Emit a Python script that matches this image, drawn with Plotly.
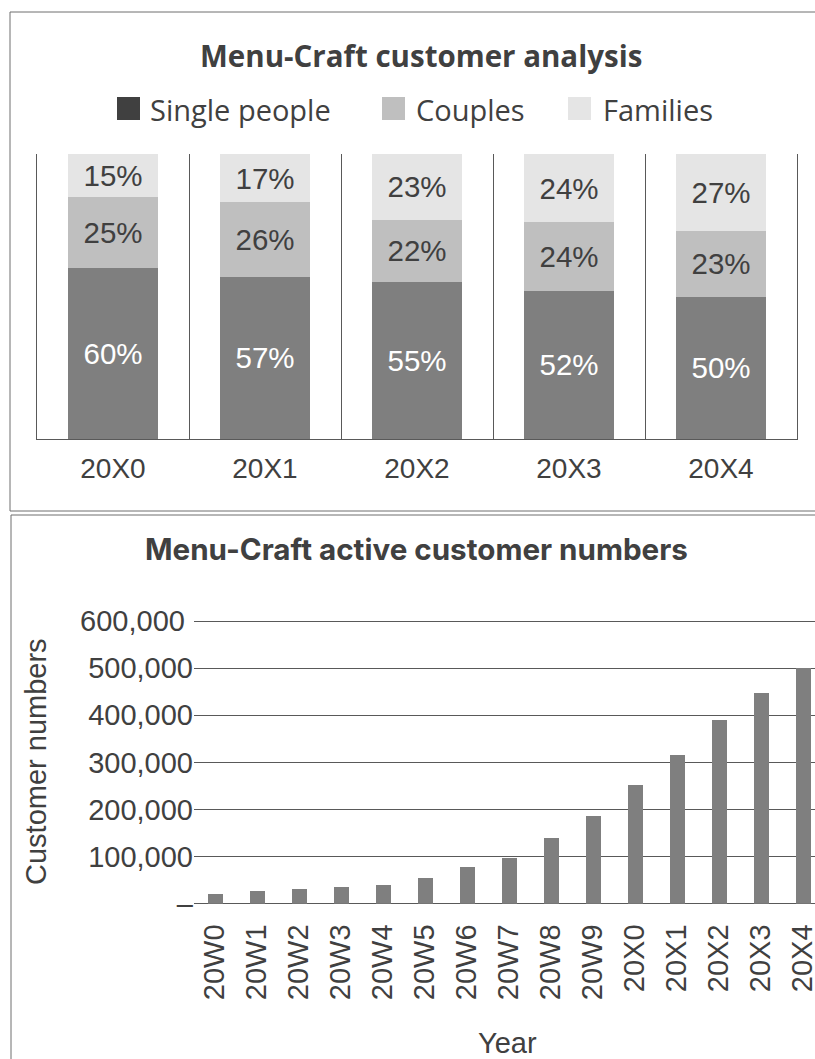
import plotly.graph_objects as go

# ---------------- data ----------------
years_top = ["20X0", "20X1", "20X2", "20X3", "20X4"]
single_people = [60, 57, 55, 52, 50]
couples = [25, 26, 22, 24, 23]
families = [15, 17, 23, 24, 27]

years_bottom = ["20W0", "20W1", "20W2", "20W3", "20W4", "20W5", "20W6", "20W7",
                "20W8", "20W9", "20X0", "20X1", "20X2", "20X3", "20X4"]
customer_numbers = [21000, 27000, 31000, 35000, 40000, 55000, 78000, 98000,
                    140000, 187000, 252000, 316000, 390000, 448000, 500000]

y2_tickvals = [0, 100000, 200000, 300000, 400000, 500000, 600000]
y2_ticktext = ["–", "100,000", "200,000", "300,000", "400,000", "500,000", "600,000&nbsp;"]

legend_names = ["Single people", "Couples", "Families"]

# ---------------- styling ----------------
W, H = 815, 1059
def X(px):
    return px / W
def Y(py):
    return 1 - py / H

DARK = "#404040"
LINE = "#595959"
BORDER = "#6e6e6e"
C_SINGLE = "#7f7f7f"
C_COUPLE = "#bfbfbf"
C_FAMILY = "#e5e5e5"
LEG_COLORS = ["#404040", "#bfbfbf", "#e5e5e5"]
NUMFONT = "Liberation Sans, Arial, sans-serif"

fig = go.Figure()

for name, vals, col, tcol in [
    (legend_names[0], single_people, C_SINGLE, "white"),
    (legend_names[1], couples, C_COUPLE, DARK),
    (legend_names[2], families, C_FAMILY, DARK),
]:
    fig.add_trace(go.Bar(
        x=years_top, y=vals, name=name, marker=dict(color=col, line=dict(width=0)),
        texttemplate="%{y}%", textposition="inside", insidetextanchor="middle",
        constraintext="none", textangle=0,
        textfont=dict(family=NUMFONT, size=29.5, color=tcol),
        xaxis="x", yaxis="y", showlegend=False, hoverinfo="skip",
    ))

fig.add_trace(go.Bar(
    x=years_bottom, y=customer_numbers, width=0.357,
    marker=dict(color=C_SINGLE, line=dict(width=0)),
    xaxis="x2", yaxis="y2", showlegend=False, hoverinfo="skip",
))

plot2_left = 194
x2_hi = (W - plot2_left) / 42.0 - 0.5
# bottom plot: zero at 903.7px, 600k at 621px; add 2px headroom so top gridline is not clipped
y2_top_px = 619
y2_max = 600000 * (903.7 - y2_top_px) / (903.7 - 621)

fig.update_layout(
    template="none",
    width=W, height=H, margin=dict(l=0, r=0, t=0, b=0, autoexpand=False),
    autosize=False,
    paper_bgcolor="white", plot_bgcolor="white",
    barmode="stack", bargap=0.408,
    showlegend=False,
    xaxis=dict(domain=[X(37), X(797)], anchor="y", type="category", automargin=False,
               tickson="boundaries", showgrid=True, gridcolor=LINE, gridwidth=1,
               showline=True, linecolor=LINE, linewidth=1, ticks="", zeroline=False,
               tickfont=dict(family=NUMFONT, size=28, color=DARK),
               ticklabelstandoff=4, fixedrange=True),
    yaxis=dict(domain=[Y(439), Y(154)], anchor="x", range=[0, 100], automargin=False,
               showgrid=False, zeroline=False, showticklabels=False, ticks="",
               showline=True, linecolor=LINE, linewidth=1, mirror=True, fixedrange=True),
    xaxis2=dict(domain=[X(plot2_left), 1], anchor="y2", type="category", automargin=False,
                range=[-0.5, x2_hi], showgrid=False, ticks="", zeroline=False, showline=False,
                tickangle=-90, tickfont=dict(family=NUMFONT, size=29, color=DARK),
                ticklabelstandoff=14, fixedrange=True),
    yaxis2=dict(domain=[Y(903.7), Y(y2_top_px)], anchor="x2", range=[0, y2_max], automargin=False,
                tickmode="array", tickvals=y2_tickvals, ticktext=y2_ticktext,
                showgrid=True, gridcolor=LINE, gridwidth=1, showline=False,
                zeroline=True, zerolinecolor=LINE, zerolinewidth=1,
                ticks="", tickfont=dict(family=NUMFONT, size=29, color=DARK),
                ticklabelstandoff=0, fixedrange=True),
)

shapes = []
# panel borders
shapes.append(dict(type="rect", xref="paper", yref="paper",
                   x0=X(10), x1=X(W + 20), y0=Y(511), y1=Y(12),
                   line=dict(color=BORDER, width=1), fillcolor="rgba(0,0,0,0)", layer="below"))
shapes.append(dict(type="rect", xref="paper", yref="paper",
                   x0=X(11), x1=X(W + 20), y0=Y(H + 20), y1=Y(515),
                   line=dict(color=BORDER, width=1), fillcolor="rgba(0,0,0,0)", layer="below"))

annotations = []
# titles
annotations.append(dict(text="<b>Menu-Craft customer analysis</b>", xref="paper", yref="paper",
                        x=X(421), y=Y(56), xanchor="center", yanchor="middle", showarrow=False,
                        font=dict(family="Open Sans", size=29.5, color=DARK)))
annotations.append(dict(text="<b>Menu-Craft active customer numbers</b>", xref="paper", yref="paper",
                        x=X(416), y=Y(549), xanchor="center", yanchor="middle", showarrow=False,
                        font=dict(family="Inter", size=29.6, color=DARK)))

# manual legend
leg_sq_x = [117, 382, 568]
leg_tx_x = [148, 414, 601]
for name, col, sx, tx in zip(legend_names, LEG_COLORS, leg_sq_x, leg_tx_x):
    shapes.append(dict(type="rect", xref="paper", yref="paper",
                       x0=X(sx), x1=X(sx + 23), y0=Y(120), y1=Y(97),
                       line=dict(width=0), fillcolor=col))
    annotations.append(dict(text=name, xref="paper", yref="paper",
                            x=X(tx), y=Y(109), xanchor="left", yanchor="middle", showarrow=False,
                            font=dict(family="Open Sans", size=29, color=DARK)))

# axis titles for bottom chart
annotations.append(dict(text="Customer numbers", xref="paper", yref="paper",
                        x=X(36), y=Y(762), xanchor="center", yanchor="middle", showarrow=False,
                        textangle=-90, font=dict(family=NUMFONT, size=29, color=DARK)))
annotations.append(dict(text="Year", xref="paper", yref="paper",
                        x=X(508), y=Y(1043), xanchor="center", yanchor="middle", showarrow=False,
                        font=dict(family=NUMFONT, size=29, color=DARK)))

fig.update_layout(shapes=shapes, annotations=annotations)

fig.write_html("out.html", config={"displayModeBar": False})
